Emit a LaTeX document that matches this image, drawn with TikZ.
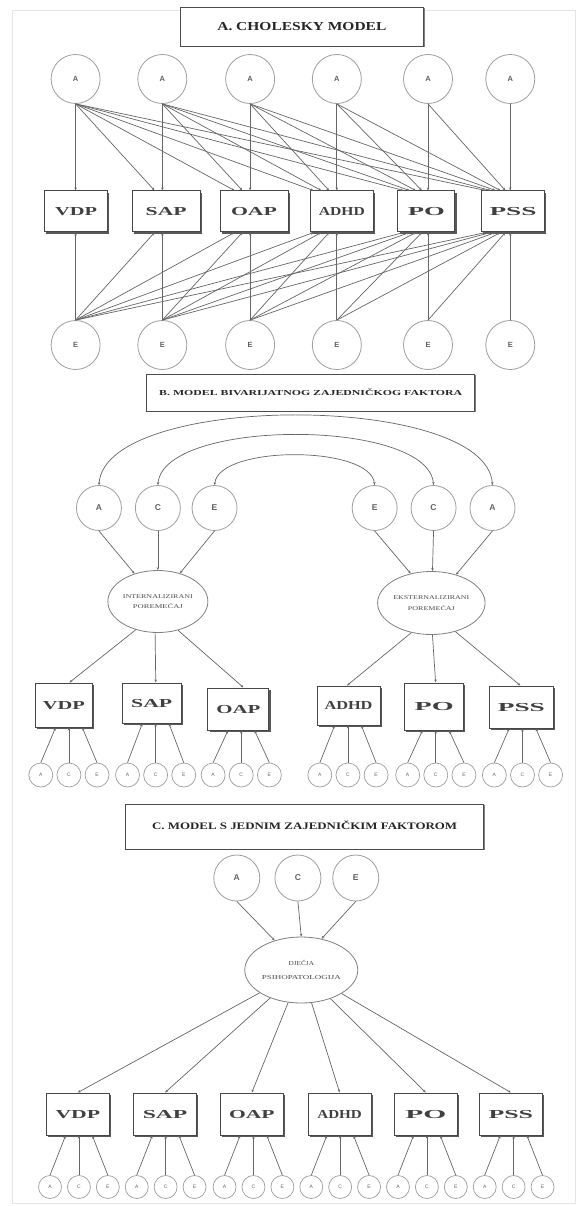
\documentclass[tikz,border=0pt]{standalone}
\usepackage{graphicx}
\usepackage{fontspec}
\setmainfont{Liberation Serif}
\newfontfamily\lblfont{Liberation Sans}
\usetikzlibrary{shapes.geometric,arrows.meta,calc,shadows}
\newcommand\fitcap[3]{\resizebox{#1}{#2}{\smash{#3}\vphantom{H}}}
\begin{document}
\begin{tikzpicture}[x=1.1117pt,y=-1pt,
  lat/.style={circle,draw=black!38,line width=0.8pt,minimum size=#1,inner sep=0pt,text=black!62,
    font=\lblfont\bfseries\fontsize{7.5}{8}\selectfont},
  smallc/.style={circle,draw=black!38,line width=0.7pt,minimum size=#1,inner sep=0pt,text=black!60,
    font=\lblfont\fontsize{5}{6}\selectfont},
  obs/.style={rectangle,draw=black!72,line width=1pt,fill=white,inner sep=0pt,text=black!75,
    drop shadow={shadow xshift=1.8pt,shadow yshift=-1.8pt,fill=black!65,opacity=1}},
  titlebox/.style={rectangle,draw=black!70,line width=0.9pt,fill=white,inner sep=0pt,text=black!85,
    drop shadow={shadow xshift=1.4pt,shadow yshift=-1.4pt,fill=black!50,opacity=1}},
  ell/.style={ellipse,draw=black!50,line width=0.8pt,inner sep=0pt,align=center,text=black!70},
  arr/.style={draw=black!60,line width=0.7pt,-{Stealth[length=3pt,width=2.4pt]}},
  biarr/.style={draw=black!60,line width=0.7pt,{Stealth[length=3pt,width=2.4pt]}-{Stealth[length=3pt,width=2.4pt]}}
]
\useasboundingbox (0pt,0pt) rectangle (581pt,-1206pt);
\fill[white] (0pt,0pt) rectangle (581pt,-1206pt);
\draw[black!10,line width=0.6pt] (12pt,-10pt) rectangle (575pt,-1203pt);

% ---------------- A. Cholesky model ----------------
\node[titlebox,minimum width=243pt,minimum height=39pt] (tA) at (271.5,26.5)
  {\fitcap{169pt}{8pt}{\bfseries A. CHOLESKY MODEL}};
\foreach \i/\cx/\bx/\w/\lab/\lw in {1/68/68.5/63/VDP/42, 2/146/149.5/68/SAP/41, 3/225/228.5/68/OAP/46,
    4/303/307.5/63/ADHD/46, 5/385/383.5/57/PO/37, 6/459/461.5/63/PSS/47}{
  \node[lat=49pt] (A\i) at (\cx,79) {A};
  \node[obs,minimum width=\w*1pt,minimum height=41pt] (B\i) at (\bx,211.5) {\fitcap{\lw pt}{8pt}{\bfseries \lab}};
  \node[lat=49pt] (E\i) at (\cx,345) {E};
}
\foreach \i in {1,...,6}{
  \foreach \j in {\i,...,6}{
    \pgfmathsetmacro\off{(\j-\i)*min(7,22/max(\j-1,1))}
    \draw[arr] (A\i.south) -- ($(A\j.south |- B\j.north)-(\off,0)$);
    \draw[arr] (E\i.north) -- ($(E\j.north |- B\j.south)-(\off,0)$);
  }
}

% ---------------- B. Bivariate common factor ----------------
\node[titlebox,minimum width=328pt,minimum height=37pt] (tB) at (279.5,392.5)
  {\fitcap{303pt}{5pt}{\bfseries B. MODEL BIVARIJATNOG ZAJEDNIČKOG FAKTORA}};
\foreach \n/\x/\l in {LA/89/A, LC/142/C, LE/193/E, RE/337/E, RC/390/C, RA/443/A}{
  \node[lat=45pt,font=\lblfont\bfseries\fontsize{8.5}{9}\selectfont] (\n) at (\x,508) {\l};
}
\draw[biarr] (LA.north) .. controls +(6,-93) and +(-6,-93) .. (RA.north);
\draw[biarr] (LC.north) .. controls +(5,-67) and +(-5,-67) .. (RC.north);
\draw[biarr] (LE.north) .. controls +(4,-40) and +(-4,-40) .. (RE.north);

\node[ell,minimum width=100pt,minimum height=62pt,font=\fontsize{5}{10.5}\selectfont] (Lell) at (142,601.5)
  {\fitcap{70pt}{3.8pt}{INTERNALIZIRANI}\\\fitcap{50pt}{3.8pt}{POREMEĆAJ}};
\node[ell,minimum width=103pt,minimum height=63pt,font=\fontsize{5}{10.5}\selectfont] (Rell) at (388,603)
  {\fitcap{76pt}{3.8pt}{EKSTERNALIZIRANI}\\\fitcap{47pt}{3.8pt}{POREMEĆAJ}};
\draw[arr] (LA.south) -- (Lell.130);
\draw[arr] (LC.south) -- (Lell.90);
\draw[arr] (LE.south) -- (Lell.52);
\draw[arr] (RE.south) -- (Rell.125);
\draw[arr] (RC.south) -- (Rell.88);
\draw[arr] (RA.south) -- (Rell.49);

\foreach \bn/\x/\y/\w/\h/\lab/\lw in {BV/57.5/705/57/44/VDP/42, BS/136.5/703/59/40/SAP/41, BO/214.5/709/61/42/OAP/44,
    BA/313.5/705.5/63/39/ADHD/48, BP/390.5/706.5/59/47/PO/39, BQ/469/707/64.5/42/PSS/47}{
  \node[obs,minimum width=\w*1pt,minimum height=\h*1pt] (\bn) at (\x,\y) {\fitcap{\lw pt}{8pt}{\bfseries \lab}};
}
\draw[arr] (Lell.232) -- ([xshift=5.5pt]BV.north);
\draw[arr] (Lell.265) -- ([xshift=4pt]BS.north);
\draw[arr] (Lell.305) -- ([xshift=5pt]BO.north);
\draw[arr] (Rell.236) -- ([xshift=-1.5pt]BA.north);
\draw[arr] (Rell.272) -- ([xshift=1.5pt]BP.north);
\draw[arr] (Rell.310) -- ([xshift=-1pt]BQ.north);

\foreach \bn/\tc in {BV/62, BS/140, BO/217, BA/313, BP/392, BQ/470}{
  \node[smallc=24pt] (\bn a) at (\tc-25.3,775) {A};
  \node[smallc=24pt] (\bn c) at (\tc,775) {C};
  \node[smallc=24pt] (\bn e) at (\tc+25.3,775) {E};
  \draw[arr] (\bn a.north) -- ($(\bn c.north |- \bn.south)+(-12,0)$);
  \draw[arr] (\bn c.north) -- (\bn c.north |- \bn.south);
  \draw[arr] (\bn e.north) -- ($(\bn c.north |- \bn.south)+(12,0)$);
}

% ---------------- C. Single common factor ----------------
\node[titlebox,minimum width=358pt,minimum height=45pt] (tC) at (274,826.5)
  {\fitcap{305pt}{6.5pt}{\bfseries C. MODEL S JEDNIM ZAJEDNIČKIM FAKTOROM}};
\node[lat=46pt,font=\lblfont\bfseries\fontsize{8.5}{9}\selectfont] (CA) at (213,878) {A};
\node[lat=46pt,font=\lblfont\bfseries\fontsize{8.5}{9}\selectfont] (CC) at (268,878) {C};
\node[lat=46pt,font=\lblfont\bfseries\fontsize{8.5}{9}\selectfont] (CE) at (320,878) {E};
\node[ell,minimum width=113pt,minimum height=66pt,font=\fontsize{5}{14}\selectfont] (Cell) at (271,970)
  {\fitcap{25.5pt}{4pt}{DJEČJA}\\\fitcap{79pt}{4pt}{PSIHOPATOLOGIJA}};
\draw[arr] (CA.south) -- (Cell.132);
\draw[arr] (CC.south) -- (Cell.90);
\draw[arr] (CE.south) -- (Cell.57);

\foreach \k/\x/\tc/\lab/\lw in {1/70/71/VDP/44.5, 2/148.5/149/SAP/44.5, 3/226.5/228/OAP/45.5,
    4/305.5/306/ADHD/44.5, 5/383/384/PO/41, 6/459.5/462/PSS/44.5}{
  \node[obs,minimum width=63pt,minimum height=42pt] (CB\k) at (\x,1114) {\fitcap{\lw pt}{8pt}{\bfseries \lab}};
  \draw[arr] (Cell) -- (CB\k.north);
  \node[smallc=23pt] (CB\k a) at (\tc-26,1187) {A};
  \node[smallc=23pt] (CB\k c) at (\tc,1187) {C};
  \node[smallc=23pt] (CB\k e) at (\tc+26,1187) {E};
  \draw[arr] (CB\k a.north) -- ($(CB\k c.north |- CB\k.south)+(-12,0)$);
  \draw[arr] (CB\k c.north) -- (CB\k c.north |- CB\k.south);
  \draw[arr] (CB\k e.north) -- ($(CB\k c.north |- CB\k.south)+(12,0)$);
}
\end{tikzpicture}
\end{document}
